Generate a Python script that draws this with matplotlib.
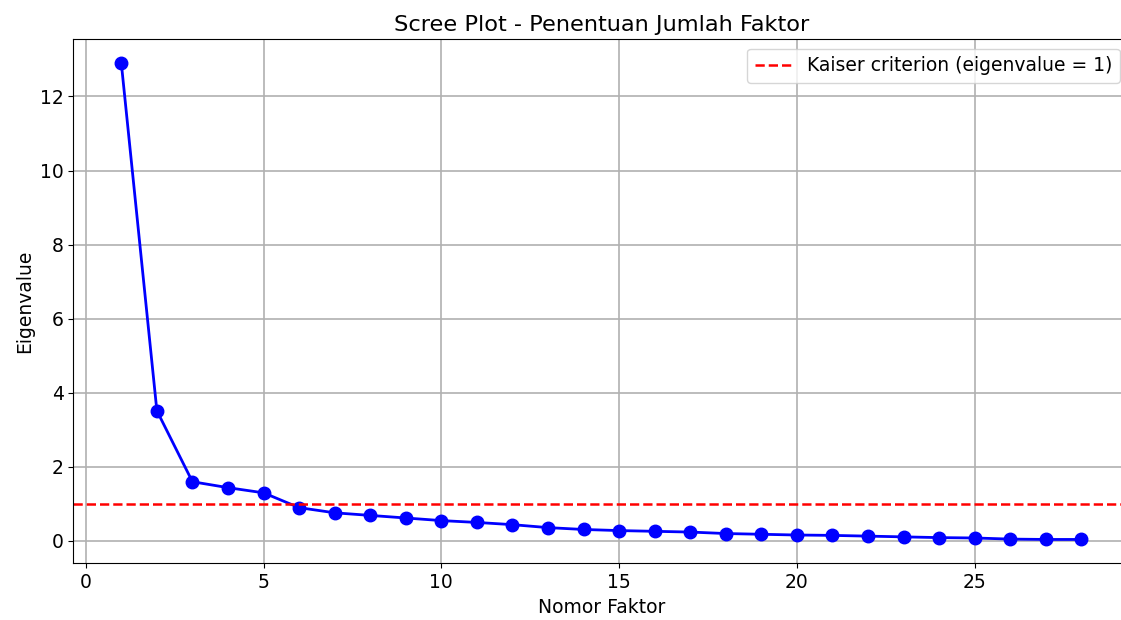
import matplotlib.pyplot as plt
import numpy as np

# eigenvalue per faktor
faktor = np.arange(1, 29)
eigenvalues = [12.90, 3.51, 1.59, 1.43, 1.29, 0.89, 0.75, 0.68, 0.61, 0.54,
               0.49, 0.43, 0.35, 0.30, 0.27, 0.25, 0.23, 0.19, 0.17, 0.15,
               0.14, 0.12, 0.10, 0.08, 0.07, 0.04, 0.03, 0.03]

plt.rcParams['font.size'] = 13.5
fig = plt.figure(figsize=(11.21, 6.2), dpi=100)
ax = fig.add_axes([0.0654, 0.0915, 0.942, 0.845])

ax.plot(faktor, eigenvalues, 'o-', color='blue', markersize=9, linewidth=2)
ax.axhline(y=1, color='red', linestyle='--', linewidth=1.8,
           label='Kaiser criterion (eigenvalue = 1)')
ax.set_title('Scree Plot - Penentuan Jumlah Faktor', fontsize=16.2)
ax.set_xlabel('Nomor Faktor')
ax.set_ylabel('Eigenvalue')
ax.grid(True, linewidth=1.2)
ax.legend(loc='upper right')

plt.savefig('out.png')
